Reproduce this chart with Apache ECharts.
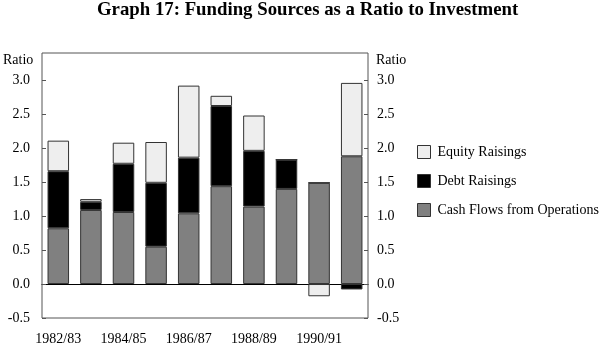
<!DOCTYPE html>
<html>
<head>
<meta charset="utf-8">
<script src="https://cdn.jsdelivr.net/npm/echarts@6/dist/echarts.min.js"></script>
<style>
  html, body { margin: 0; padding: 0; background: #fff; }
  #chart { width: 600px; height: 346px; }
</style>
</head>
<body>
<div id="chart"></div>
<script>
// Financial years shown on the category axis
const years = ['1982/83', '1983/84', '1984/85', '1985/86', '1986/87',
               '1987/88', '1988/89', '1989/90', '1990/91', '1991/92'];

// Funding sources, each as a ratio to investment
const cashFlows = [0.82, 1.09, 1.06, 0.55, 1.04, 1.44, 1.14, 1.40, 1.49, 1.88];
const debtRaisings = [0.84, 0.12, 0.71, 0.94, 0.82, 1.18, 0.82, 0.43, 0.00, -0.08];
const equityRaisings = [0.45, 0.04, 0.31, 0.60, 1.06, 0.15, 0.52, 0.00, -0.18, 1.08];

const yTicks = [-0.5, 0.0, 0.5, 1.0, 1.5, 2.0, 2.5, 3.0];

const FONT = '"Liberation Serif", "DejaVu Serif", serif';
const chart = echarts.init(document.getElementById('chart'), null, { renderer: 'canvas' });

const valueAxis = (position) => ({
  type: 'value',
  position: position,
  min: yTicks[0],
  max: 3.4,
  interval: 0.5,
  axisLine: { show: false },
  axisTick: { show: true, inside: true, length: 4, lineStyle: { color: '#555' } },
  splitLine: { show: false },
  axisLabel: {
    showMaxLabel: false,
    fontFamily: FONT, fontSize: 14, color: '#000',
    margin: position === 'left' ? 12 : 9,
    formatter: (v) => (yTicks.some(t => Math.abs(t - v) < 1e-6) ? v.toFixed(1) : '')
  }
});

const barStyle = (color) => ({ color: color, borderColor: '#333', borderWidth: 1 });

chart.setOption({
  animation: false,
  title: {
    text: 'Graph 17: Funding Sources as a Ratio to Investment',
    left: 92, top: -4,
    textStyle: { fontFamily: FONT, fontSize: 18.8, fontWeight: 'bold', color: '#000' }
  },
  grid: {
    left: 42, right: 232, top: 53, bottom: 28,
    show: true, borderColor: '#555', borderWidth: 1, backgroundColor: 'transparent'
  },
  legend: {
    orient: 'vertical',
    left: 412, top: 140,
    itemWidth: 13, itemHeight: 13, itemGap: 15,
    icon: 'rect',
    textStyle: { fontFamily: FONT, fontSize: 14, color: '#000', padding: [0, 0, 0, 2] },
    data: [
      { name: 'Equity Raisings', itemStyle: barStyle('#eeeeee') },
      { name: 'Debt Raisings', itemStyle: barStyle('#000000') },
      { name: 'Cash Flows from Operations', itemStyle: barStyle('#808080') }
    ]
  },
  graphic: [
    { type: 'text', left: 3, top: 53, style: { text: 'Ratio', font: '14px ' + FONT, fill: '#000' } },
    { type: 'text', left: 376, top: 53, style: { text: 'Ratio', font: '14px ' + FONT, fill: '#000' } }
  ],
  xAxis: {
    type: 'category',
    data: years,
    axisLine: { onZero: true, lineStyle: { color: '#000', width: 1 } },
    axisTick: { show: false },
    axisLabel: {
      interval: 1,
      fontFamily: FONT, fontSize: 14, color: '#000',
      margin: 14
    }
  },
  yAxis: [valueAxis('left'), valueAxis('right')],
  series: [
    {
      name: 'Cash Flows from Operations', type: 'bar', stack: 'funding',
      data: cashFlows, barCategoryGap: '34%', itemStyle: barStyle('#808080')
    },
    {
      name: 'Debt Raisings', type: 'bar', stack: 'funding',
      data: debtRaisings, itemStyle: barStyle('#000000')
    },
    {
      name: 'Equity Raisings', type: 'bar', stack: 'funding',
      data: equityRaisings, itemStyle: barStyle('#eeeeee')
    }
  ]
});
</script>
</body>
</html>
